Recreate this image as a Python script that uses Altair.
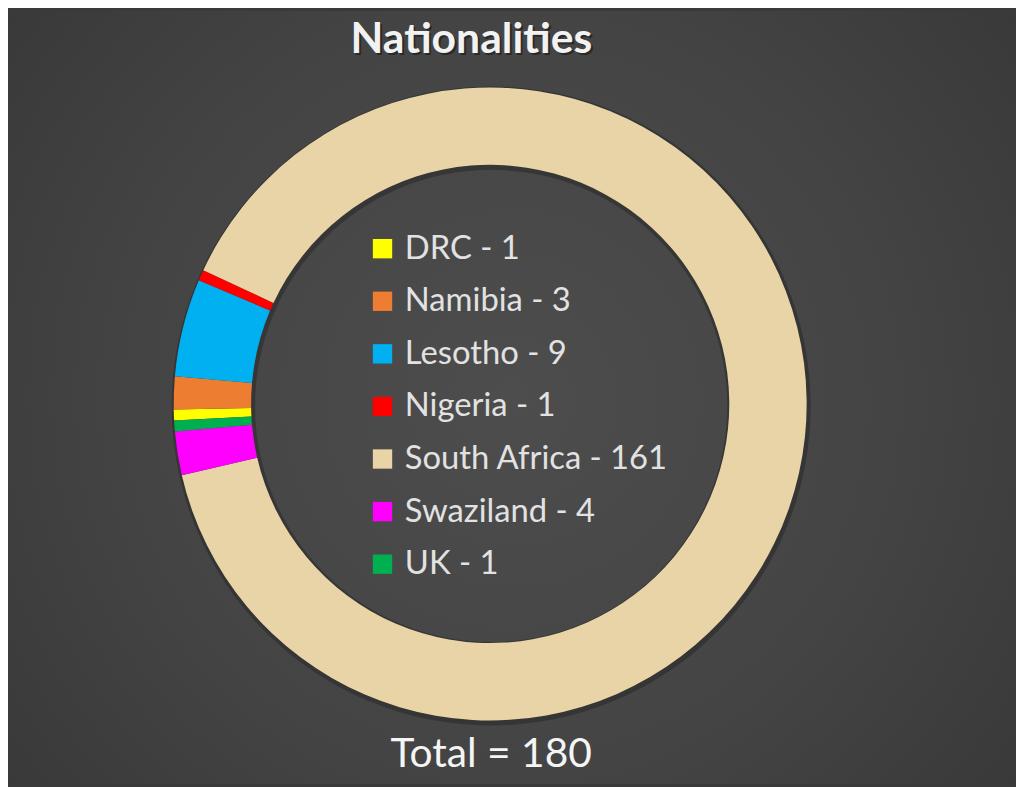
import math
import altair as alt
import pandas as pd

# ---- data ----
names = ["DRC", "Namibia", "Lesotho", "Nigeria", "South Africa", "Swaziland", "UK"]
counts = [1, 3, 9, 1, 161, 4, 1]
colors = ["#FFFF00", "#ED7D31", "#00B0F0", "#FF0000", "#E8D4A6", "#FF00FF", "#00B050"]
title_text = "Nationalities"
total_text = "Total = 180"
start_deg = 267

# ---- layout ----
W, H = 1016, 779
CX, CY = 486, 396
R_OUT, R_IN = 319, 241
FONT = "Lato"

labels = [f"{n} - {c}" for n, c in zip(names, counts)]
df = pd.DataFrame({"name": names, "count": counts, "idx": list(range(len(names))), "label": labels})
a0 = math.radians(start_deg)
one = pd.DataFrame({"k": [0]})

bg = alt.Chart(one).mark_rect(
    color=alt.RadialGradient(
        gradient="radial",
        stops=[alt.GradientStop(color="#4d4d4d", offset=0),
               alt.GradientStop(color="#444444", offset=0.5),
               alt.GradientStop(color="#343434", offset=1)],
        x1=0.5, y1=0.5, r1=0, x2=0.5, y2=0.5, r2=0.75,
    )
).encode(x=alt.value(0), x2=alt.value(W), y=alt.value(0), y2=alt.value(H))

ring_shadow = alt.Chart(one).mark_arc(
    theta=0, theta2=2 * math.pi, outerRadius=R_OUT + 3, innerRadius=R_IN - 3,
    color="#222222", opacity=0.45
).encode(x=alt.value(CX + 1), y=alt.value(CY + 2))

pie = alt.Chart(df).mark_arc(outerRadius=R_OUT, innerRadius=R_IN).encode(
    theta=alt.Theta("count:Q", stack=True, scale=alt.Scale(range=[a0, a0 + 2 * math.pi])),
    color=alt.Color(
        "label:N",
        scale=alt.Scale(domain=labels, range=colors),
        legend=alt.Legend(
            title=None, orient="none", legendX=361, legendY=223,
            symbolType="square", symbolSize=380, symbolStrokeWidth=0, symbolOpacity=1,
            labelFont=FONT, labelFontSize=33, labelColor="#e2e2e2",
            rowPadding=19, labelOffset=6, labelLimit=500,
        ),
    ),
    order=alt.Order("idx:Q"),
    x=alt.value(CX),
    y=alt.value(CY),
)

title_shadow = alt.Chart(one).mark_text(
    text=title_text, font=FONT, fontSize=43, fontWeight="bold", color="#1e1e1e", opacity=0.7,
    align="center", baseline="alphabetic"
).encode(x=alt.value(469), y=alt.value(44))
title = alt.Chart(one).mark_text(
    text=title_text, font=FONT, fontSize=43, fontWeight="bold", color="#f2f2f2",
    align="center", baseline="alphabetic"
).encode(x=alt.value(467), y=alt.value(42))

total = alt.Chart(one).mark_text(
    text=total_text, font=FONT, fontSize=41, color="#f5f5f5",
    align="center", baseline="alphabetic"
).encode(x=alt.value(487), y=alt.value(762))

chart = alt.layer(bg, ring_shadow, pie, title_shadow, title, total).properties(
    width=W, height=H, padding=0,
    autosize=alt.AutoSizeParams(type="fit", contains="padding"),
    background="#3a3a3a",
).configure_view(stroke=None)

chart.save("out.html", embed_options={"renderer": "svg", "actions": False})
